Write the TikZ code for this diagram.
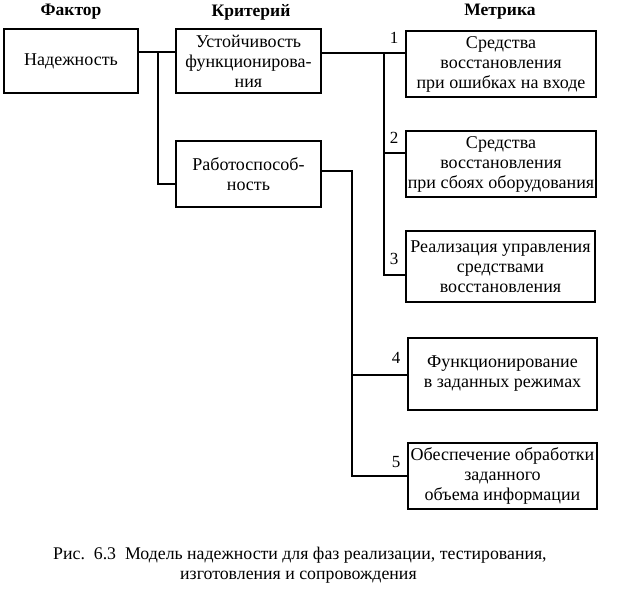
\documentclass[tikz,border=0pt]{standalone}
\usepackage{fontspec}
\setmainfont{Liberation Serif}
\begin{document}
\begin{tikzpicture}[x=1pt,y=-1pt,
  box/.style={draw,line width=1.4pt,rectangle,align=center,inner sep=0pt,
    font=\fontsize{18}{20}\selectfont},
  hdr/.style={font=\bfseries\fontsize{17.5}{20}\selectfont},
  num/.style={font=\fontsize{17}{20}\selectfont},
  captext/.style={font=\fontsize{17.8}{22}\selectfont,anchor=west,inner sep=0pt},
  wire/.style={line width=1.4pt}]
\useasboundingbox[fill=white] (0,0) rectangle (642,590);
% headers
\node[hdr] (h1) at (71,12) {Фактор};
\node[hdr] (h2) at (251,12) {Критерий};
\node[hdr] (h3) at (500,12) {Метрика};
% boxes
\node[box,minimum width=134,minimum height=64] (fac) at (71,61) {Надежность};
\node[box,minimum width=145,minimum height=64] (k1) at (248.5,61) {Устойчивость\\функционирова-\\ния};
\node[box,minimum width=145,minimum height=66] (k2) at (248.5,174) {Работоспособ-\\ность};
\node[box,minimum width=190,minimum height=66] (m1) at (501,64) {Средства\\восстановления\\при ошибках на входе};
\node[box,minimum width=190,minimum height=66] (m2) at (501,164) {Средства\\восстановления\\при сбоях оборудования};
\node[box,minimum width=189,minimum height=71] (m3) at (500.5,266.5) {Реализация управления\\средствами\\восстановления};
\node[box,minimum width=189,minimum height=72] (m4) at (502.5,374) {Функционирование\\в заданных режимах};
\node[box,minimum width=189,minimum height=66] (m5) at (502.5,476) {Обеспечение обработки\\заданного\\объема информации};
% junction coordinates
\coordinate (j1) at (158,52);
\coordinate (j2) at (158,184);
\coordinate (b1) at (384,53);
\coordinate (b2) at (384,153);
\coordinate (b3) at (384,275);
\coordinate (c0) at (352,171);
\coordinate (c1) at (352,375);
\coordinate (c2) at (352,476);
% connectors
\draw[wire] (fac.east |- j1) -- (k1.west |- j1);
\draw[wire] (j1) -- (j2) -- (k2.west |- j2);
\draw[wire] (k1.east |- b1) -- (m1.west |- b1);
\draw[wire] (b1) -- (b3) -- (m3.west |- b3);
\draw[wire] (b2) -- (m2.west |- b2);
\draw[wire] (k2.east |- c0) -- (c0) -- (c2) -- (m5.west |- c2);
\draw[wire] (c1) -- (m4.west |- c1);
% numbers
\node[num] (n1) at (394,38) {1};
\node[num] (n2) at (394,138) {2};
\node[num] (n3) at (394,259) {3};
\node[num] (n4) at (396,358) {4};
\node[num] (n5) at (396,462) {5};
% caption
\node[captext] (cap1) at (53,555) {Рис.\ \ 6.3\ \ Модель надежности для фаз реализации, тестирования,};
\node[captext] (cap2) at (180,577) {изготовления и сопровождения};
\end{tikzpicture}
\end{document}
